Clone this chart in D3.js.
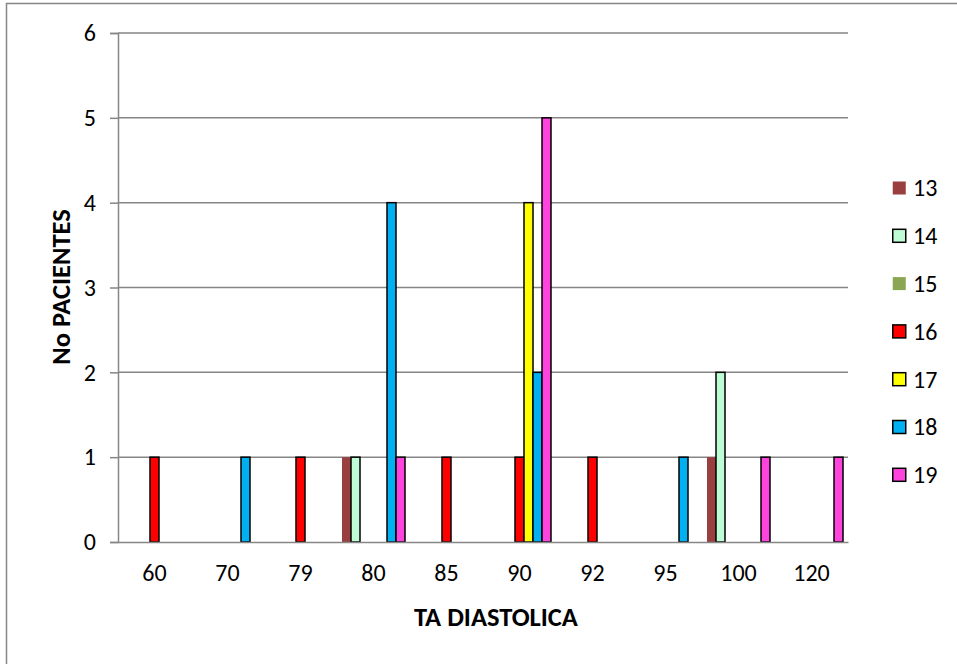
<!DOCTYPE html>
<html>
<head>
<meta charset="utf-8">
<script src="https://cdn.jsdelivr.net/npm/d3@7"></script>
<style>
  body { margin: 0; background: #fff; }
  svg { display: block; font-family: Carlito, Lato, "Open Sans", sans-serif; }
</style>
</head>
<body>
<svg id="chart" width="957" height="664"></svg>
<script>
// Categories on the x axis (diastolic pressure)
const categories = ["60", "70", "79", "80", "85", "90", "92", "95", "100", "120"];
// Series (age groups)
const seriesNames = ["13", "14", "15", "16", "17", "18", "19"];
const seriesColors = ["#9A3F3F", "#BEFCD6", "#8BA652", "#FF0000", "#FFFF00", "#00B0F0", "#FF44DD"];
const seriesStroke = [false, true, false, true, true, true, true];
// Patient counts, one row per series, one value per category
const s13 = [0, 0, 0, 1, 0, 0, 0, 0, 1, 0];
const s14 = [0, 0, 0, 1, 0, 0, 0, 0, 2, 0];
const s15 = [0, 0, 0, 0, 0, 0, 0, 0, 0, 0];
const s16 = [1, 0, 1, 0, 1, 1, 1, 0, 0, 0];
const s17 = [0, 0, 0, 0, 0, 4, 0, 0, 0, 0];
const s18 = [0, 1, 0, 4, 0, 2, 0, 1, 0, 0];
const s19 = [0, 0, 0, 1, 0, 5, 0, 0, 1, 1];
const seriesValues = [s13, s14, s15, s16, s17, s18, s19];
const yTicks = [0, 1, 2, 3, 4, 5, 6];

const FONT = "Carlito, Lato, 'Open Sans', sans-serif";
const svg = d3.select("#chart");
const plotLeft = 118, plotRight = 848, plotTop = 33, plotBottom = 542;

// Outer frame
svg.append("rect")
  .attr("x", 6.5).attr("y", 3.5)
  .attr("width", 1000).attr("height", 1000)
  .attr("fill", "none").attr("stroke", "#868686").attr("stroke-width", 1.5);

const x0 = d3.scaleBand().domain(categories).range([plotLeft, plotRight]).paddingInner(0).paddingOuter(0);
const x1 = d3.scaleBand().domain(seriesNames).range([0, 63]);
const y = d3.scaleLinear().domain([0, 6]).range([plotBottom, plotTop]);

// Horizontal gridlines
svg.append("g").selectAll("line").data(yTicks.filter(d => d > 0)).join("line")
  .attr("x1", plotLeft).attr("x2", plotRight)
  .attr("y1", d => y(d)).attr("y2", d => y(d))
  .attr("stroke", "#868686").attr("stroke-width", 1.5);

// Y axis
const yAxis = svg.append("g").attr("transform", `translate(${plotLeft},0)`)
  .call(d3.axisLeft(y).tickValues(yTicks).tickSize(8).tickPadding(14).tickFormat(d3.format("d")));
yAxis.attr("font-family", FONT).attr("font-size", 24);
yAxis.select(".domain").attr("stroke", "#868686").attr("stroke-width", 1.5);
yAxis.selectAll(".tick line").attr("stroke", "#868686").attr("stroke-width", 1.5);
yAxis.selectAll(".tick text").style("font-size", "24px").attr("fill", "#000");

// Bars
const groups = svg.append("g").selectAll("g").data(categories).join("g")
  .attr("transform", d => `translate(${x0(d) + (x0.bandwidth() - 63) / 2},0)`);
groups.selectAll("rect")
  .data((c, ci) => seriesNames.map((s, si) => ({ s, si, v: seriesValues[si][ci] })).filter(d => d.v > 0))
  .join("rect")
  .attr("x", d => x1(d.s))
  .attr("width", x1.bandwidth())
  .attr("y", d => y(d.v))
  .attr("height", d => y(0) - y(d.v))
  .attr("fill", d => seriesColors[d.si])
  .attr("stroke", d => seriesStroke[d.si] ? "#000" : "none")
  .attr("stroke-width", 1.5);

// X axis baseline and labels
const xAxis = svg.append("g").attr("transform", `translate(0,${plotBottom})`)
  .call(d3.axisBottom(x0).tickSize(0).tickPadding(22));
xAxis.attr("font-family", FONT).attr("font-size", 24);
xAxis.select(".domain").attr("stroke", "#868686").attr("stroke-width", 1.5);
xAxis.selectAll(".tick text").style("font-size", "24px").attr("fill", "#000");

// Axis titles
svg.append("text").attr("x", 496).attr("y", 626).attr("text-anchor", "middle")
  .style("font-size", "26.5px").attr("font-weight", "bold").text("TA DIASTOLICA");
svg.append("text").attr("transform", "translate(70,287) rotate(-90)").attr("text-anchor", "middle")
  .style("font-size", "26.5px").attr("font-weight", "bold").text("No PACIENTES");

// Legend
const legend = svg.append("g").selectAll("g").data(seriesNames).join("g")
  .attr("transform", (d, i) => `translate(892,${188 + i * 47.8})`);
legend.append("rect").attr("x", 0.75).attr("y", -6.5).attr("width", 13).attr("height", 13)
  .attr("fill", (d, i) => seriesColors[i])
  .attr("stroke", (d, i) => seriesStroke[i] ? "#000" : "none").attr("stroke-width", 1.5);
legend.append("text").attr("x", 21).attr("y", 0).attr("dy", "0.35em")
  .style("font-size", "24px").attr("fill", "#000").text(d => d);
</script>
</body>
</html>
